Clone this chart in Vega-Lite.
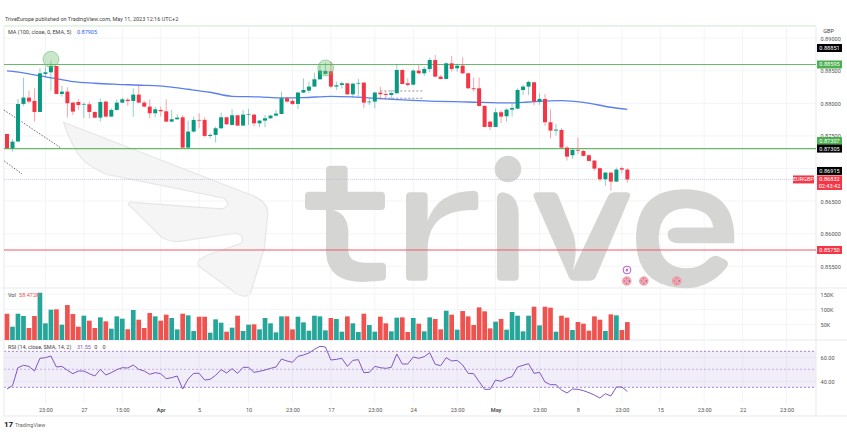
{"$schema":"https://vega.github.io/schema/vega-lite/v6.json","padding":0,"background":"white","spacing":0,"bounds":"flush","config":{"view":{"stroke":null},"text":{"font":"Roboto"},"axis":{"labelFont":"Roboto"}},
"datasets":{
"ticks":[{"i":7},{"i":14},{"i":21},{"i":28},{"i":35},{"i":44},{"i":52},{"i":59},{"i":67},{"i":74},{"i":82},{"i":89},{"i":97},{"i":104},{"i":112},{"i":119},{"i":127},{"i":134},{"i":142}],
"bars":[
{"i":0,"d":"d","o":0.8753,"h":0.8753,"l":0.8731,"c":0.8731,"v":86000,"r":33.58},
{"i":1,"d":"u","o":0.8731,"h":0.87448,"l":0.87259,"c":0.87412,"v":43600,"r":36.36},
{"i":2,"d":"u","o":0.87412,"h":0.88066,"l":0.87412,"c":0.8799,"v":86000,"r":51.36},
{"i":3,"d":"u","o":0.8799,"h":0.88393,"l":0.87959,"c":0.88087,"v":78400,"r":53.31},
{"i":4,"d":"d","o":0.88087,"h":0.88194,"l":0.88,"c":0.88026,"v":39200,"r":52.47},
{"i":5,"d":"d","o":0.88036,"h":0.8823,"l":0.87719,"c":0.87867,"v":78400,"r":48.58},
{"i":6,"d":"u","o":0.87867,"h":0.88537,"l":0.87867,"c":0.8846,"v":154600,"r":59.14},
{"i":7,"d":"u","o":0.8845,"h":0.88562,"l":0.88409,"c":0.88475,"v":54500,"r":59.69},
{"i":8,"d":"u","o":0.88475,"h":0.88654,"l":0.88194,"c":0.88572,"v":99100,"r":61.08},
{"i":9,"d":"d","o":0.88572,"h":0.88572,"l":0.88143,"c":0.88143,"v":100200,"r":51.92},
{"i":10,"d":"u","o":0.88143,"h":0.88266,"l":0.88102,"c":0.88179,"v":50100,"r":52.47},
{"i":11,"d":"d","o":0.88179,"h":0.88245,"l":0.8778,"c":0.88,"v":114300,"r":49.14},
{"i":12,"d":"d","o":0.8801,"h":0.88026,"l":0.87821,"c":0.87872,"v":84900,"r":46.36},
{"i":13,"d":"d","o":0.8802,"h":0.88066,"l":0.87898,"c":0.87974,"v":43600,"r":48.58},
{"i":14,"d":"u","o":0.8798,"h":0.8801,"l":0.8777,"c":0.8799,"v":79500,"r":48.58},
{"i":15,"d":"d","o":0.87985,"h":0.88026,"l":0.8777,"c":0.87867,"v":63200,"r":46.36},
{"i":16,"d":"d","o":0.87867,"h":0.87872,"l":0.8777,"c":0.8778,"v":39200,"r":44.42},
{"i":17,"d":"u","o":0.8778,"h":0.88072,"l":0.87719,"c":0.8802,"v":74100,"r":49.97},
{"i":18,"d":"d","o":0.88026,"h":0.88036,"l":0.87785,"c":0.87796,"v":61000,"r":45.25},
{"i":19,"d":"u","o":0.87796,"h":0.87923,"l":0.87785,"c":0.87898,"v":37000,"r":47.19},
{"i":20,"d":"u","o":0.87898,"h":0.88061,"l":0.87888,"c":0.8801,"v":77300,"r":49.69},
{"i":21,"d":"u","o":0.8801,"h":0.88087,"l":0.88,"c":0.88061,"v":69700,"r":51.36},
{"i":22,"d":"d","o":0.88056,"h":0.88087,"l":0.87959,"c":0.88036,"v":34800,"r":51.08},
{"i":23,"d":"u","o":0.88036,"h":0.8823,"l":0.87796,"c":0.88133,"v":98000,"r":53.58},
{"i":24,"d":"d","o":0.88133,"h":0.88281,"l":0.88,"c":0.8801,"v":66400,"r":49.97},
{"i":25,"d":"d","o":0.8801,"h":0.88041,"l":0.87939,"c":0.87949,"v":39200,"r":48.58},
{"i":26,"d":"d","o":0.87949,"h":0.88061,"l":0.8777,"c":0.87847,"v":88200,"r":45.81},
{"i":27,"d":"u","o":0.87847,"h":0.87949,"l":0.87785,"c":0.87908,"v":77300,"r":47.19},
{"i":28,"d":"d","o":0.87898,"h":0.87949,"l":0.87796,"c":0.87877,"v":63200,"r":46.36},
{"i":29,"d":"d","o":0.87877,"h":0.88061,"l":0.87714,"c":0.87719,"v":82800,"r":42.19},
{"i":30,"d":"u","o":0.87719,"h":0.87898,"l":0.87709,"c":0.87755,"v":71900,"r":43.03},
{"i":31,"d":"u","o":0.87755,"h":0.87831,"l":0.87745,"c":0.8778,"v":34800,"r":44.42},
{"i":32,"d":"d","o":0.87785,"h":0.87821,"l":0.8731,"c":0.8732,"v":86000,"r":33.58},
{"i":33,"d":"u","o":0.8732,"h":0.87734,"l":0.8731,"c":0.87566,"v":80600,"r":41.92},
{"i":34,"d":"u","o":0.87566,"h":0.87796,"l":0.8755,"c":0.87745,"v":29400,"r":46.64},
{"i":35,"d":"d","o":0.87745,"h":0.87847,"l":0.87617,"c":0.87734,"v":76200,"r":46.64},
{"i":36,"d":"d","o":0.87745,"h":0.87785,"l":0.87479,"c":0.87499,"v":76200,"r":41.08},
{"i":37,"d":"u","o":0.87499,"h":0.8754,"l":0.87463,"c":0.87515,"v":24000,"r":41.64},
{"i":38,"d":"u","o":0.87515,"h":0.87642,"l":0.87397,"c":0.87617,"v":67500,"r":44.97},
{"i":39,"d":"u","o":0.87617,"h":0.87857,"l":0.87601,"c":0.87785,"v":56600,"r":49.69},
{"i":40,"d":"d","o":0.87785,"h":0.87796,"l":0.87668,"c":0.87678,"v":27200,"r":46.92},
{"i":41,"d":"u","o":0.87668,"h":0.87908,"l":0.87668,"c":0.87816,"v":40300,"r":50.53},
{"i":42,"d":"d","o":0.87816,"h":0.87821,"l":0.87653,"c":0.87658,"v":79500,"r":46.64},
{"i":43,"d":"u","o":0.87658,"h":0.87898,"l":0.87653,"c":0.87826,"v":29400,"r":51.64},
{"i":44,"d":"u","o":0.87821,"h":0.87913,"l":0.87668,"c":0.87831,"v":50100,"r":51.64},
{"i":45,"d":"d","o":0.87826,"h":0.87836,"l":0.87642,"c":0.87693,"v":51200,"r":47.47},
{"i":46,"d":"u","o":0.87693,"h":0.87745,"l":0.87632,"c":0.87734,"v":34800,"r":48.31},
{"i":47,"d":"u","o":0.87734,"h":0.87821,"l":0.87632,"c":0.8777,"v":71900,"r":49.42},
{"i":48,"d":"u","o":0.8777,"h":0.87821,"l":0.8776,"c":0.87811,"v":54500,"r":50.81},
{"i":49,"d":"u","o":0.87811,"h":0.87898,"l":0.87796,"c":0.87842,"v":25000,"r":51.92},
{"i":50,"d":"u","o":0.87836,"h":0.88179,"l":0.87836,"c":0.88077,"v":77300,"r":58.58},
{"i":51,"d":"d","o":0.88077,"h":0.88102,"l":0.8801,"c":0.88026,"v":77300,"r":56.92},
{"i":52,"d":"d","o":0.88036,"h":0.88061,"l":0.87974,"c":0.8799,"v":34800,"r":55.81},
{"i":53,"d":"u","o":0.8799,"h":0.88179,"l":0.87913,"c":0.88164,"v":76200,"r":60.81},
{"i":54,"d":"u","o":0.88164,"h":0.88383,"l":0.88153,"c":0.88204,"v":57700,"r":61.92},
{"i":55,"d":"u","o":0.88194,"h":0.88332,"l":0.88153,"c":0.88256,"v":30500,"r":63.58},
{"i":56,"d":"u","o":0.88256,"h":0.8847,"l":0.88256,"c":0.88368,"v":79500,"r":66.64},
{"i":57,"d":"u","o":0.88368,"h":0.88588,"l":0.88358,"c":0.88501,"v":77300,"r":69.14},
{"i":58,"d":"u","o":0.8845,"h":0.88623,"l":0.88434,"c":0.88496,"v":31600,"r":68.58},
{"i":59,"d":"d","o":0.88491,"h":0.88639,"l":0.8823,"c":0.88256,"v":71900,"r":57.75},
{"i":60,"d":"u","o":0.88256,"h":0.88332,"l":0.88204,"c":0.88276,"v":68600,"r":58.31},
{"i":61,"d":"u","o":0.88281,"h":0.88332,"l":0.8823,"c":0.88307,"v":27200,"r":59.14},
{"i":62,"d":"d","o":0.88307,"h":0.88307,"l":0.88128,"c":0.88138,"v":77300,"r":52.47},
{"i":63,"d":"u","o":0.88138,"h":0.88317,"l":0.88092,"c":0.88301,"v":54500,"r":57.47},
{"i":64,"d":"u","o":0.88301,"h":0.88373,"l":0.88102,"c":0.88312,"v":26100,"r":58.03},
{"i":65,"d":"d","o":0.88317,"h":0.88317,"l":0.87923,"c":0.8801,"v":86000,"r":47.19},
{"i":66,"d":"u","o":0.88015,"h":0.88077,"l":0.87974,"c":0.88026,"v":49000,"r":47.47},
{"i":67,"d":"u","o":0.88026,"h":0.88179,"l":0.87923,"c":0.88164,"v":27200,"r":52.47},
{"i":68,"d":"d","o":0.88164,"h":0.88256,"l":0.88061,"c":0.88138,"v":76200,"r":51.36},
{"i":69,"d":"d","o":0.88143,"h":0.88179,"l":0.88077,"c":0.88128,"v":54500,"r":50.81},
{"i":70,"d":"u","o":0.88128,"h":0.88204,"l":0.88061,"c":0.88158,"v":28300,"r":51.64},
{"i":71,"d":"u","o":0.88153,"h":0.88603,"l":0.88153,"c":0.88511,"v":73000,"r":62.75},
{"i":72,"d":"d","o":0.88511,"h":0.88521,"l":0.88291,"c":0.88296,"v":74100,"r":54.42},
{"i":73,"d":"d","o":0.88307,"h":0.88383,"l":0.88256,"c":0.88281,"v":26100,"r":54.42},
{"i":74,"d":"u","o":0.88286,"h":0.88521,"l":0.88271,"c":0.88501,"v":71900,"r":60.25},
{"i":75,"d":"d","o":0.88501,"h":0.88588,"l":0.8845,"c":0.8846,"v":53400,"r":59.14},
{"i":76,"d":"u","o":0.8846,"h":0.88562,"l":0.88419,"c":0.88526,"v":28300,"r":60.53},
{"i":77,"d":"u","o":0.88526,"h":0.887,"l":0.88475,"c":0.88664,"v":74100,"r":63.86},
{"i":78,"d":"d","o":0.88664,"h":0.88741,"l":0.88399,"c":0.88409,"v":68600,"r":54.14},
{"i":79,"d":"d","o":0.88409,"h":0.88434,"l":0.88368,"c":0.88373,"v":34800,"r":53.03},
{"i":80,"d":"u","o":0.88373,"h":0.88629,"l":0.88368,"c":0.88613,"v":95800,"r":59.69},
{"i":81,"d":"d","o":0.88613,"h":0.88726,"l":0.88485,"c":0.88526,"v":82800,"r":56.92},
{"i":82,"d":"u","o":0.88537,"h":0.88603,"l":0.88485,"c":0.88577,"v":33800,"r":57.47},
{"i":83,"d":"d","o":0.88577,"h":0.88705,"l":0.8845,"c":0.8846,"v":94700,"r":53.58},
{"i":84,"d":"d","o":0.8846,"h":0.8847,"l":0.8822,"c":0.8823,"v":77300,"r":46.64},
{"i":85,"d":"d","o":0.8823,"h":0.88393,"l":0.88179,"c":0.88215,"v":49000,"r":46.36},
{"i":86,"d":"d","o":0.8823,"h":0.88393,"l":0.87949,"c":0.87959,"v":106700,"r":39.69},
{"i":87,"d":"d","o":0.87959,"h":0.87974,"l":0.87632,"c":0.87637,"v":93700,"r":33.31},
{"i":88,"d":"d","o":0.87719,"h":0.87729,"l":0.87591,"c":0.87637,"v":38100,"r":33.31},
{"i":89,"d":"u","o":0.87637,"h":0.87923,"l":0.87632,"c":0.87862,"v":59900,"r":41.08},
{"i":90,"d":"d","o":0.87862,"h":0.87898,"l":0.87693,"c":0.87796,"v":68600,"r":39.97},
{"i":91,"d":"u","o":0.87801,"h":0.87923,"l":0.87719,"c":0.87903,"v":33800,"r":42.47},
{"i":92,"d":"u","o":0.87903,"h":0.88,"l":0.87796,"c":0.87928,"v":91500,"r":43.86},
{"i":93,"d":"u","o":0.87918,"h":0.8823,"l":0.87908,"c":0.88204,"v":79500,"r":51.92},
{"i":94,"d":"u","o":0.88204,"h":0.88281,"l":0.88128,"c":0.88256,"v":28300,"r":53.31},
{"i":95,"d":"u","o":0.88256,"h":0.88347,"l":0.88128,"c":0.88327,"v":79500,"r":54.69},
{"i":96,"d":"d","o":0.88322,"h":0.88322,"l":0.87964,"c":0.88026,"v":108900,"r":46.64},
{"i":97,"d":"u","o":0.88026,"h":0.88153,"l":0.87974,"c":0.88066,"v":47900,"r":47.47},
{"i":98,"d":"d","o":0.88066,"h":0.88143,"l":0.87653,"c":0.87709,"v":108900,"r":39.42},
{"i":99,"d":"d","o":0.87709,"h":0.87908,"l":0.87463,"c":0.87581,"v":105600,"r":37.19},
{"i":100,"d":"u","o":0.87581,"h":0.87683,"l":0.87504,"c":0.87596,"v":27200,"r":37.19},
{"i":101,"d":"d","o":0.87591,"h":0.87617,"l":0.8731,"c":0.8732,"v":79500,"r":32.75},
{"i":102,"d":"d","o":0.8732,"h":0.87346,"l":0.87121,"c":0.87182,"v":73000,"r":30.25},
{"i":103,"d":"u","o":0.87203,"h":0.8731,"l":0.87147,"c":0.87285,"v":32700,"r":33.58},
{"i":104,"d":"d","o":0.87285,"h":0.87474,"l":0.87223,"c":0.87274,"v":58800,"r":33.31},
{"i":105,"d":"d","o":0.87269,"h":0.87285,"l":0.87182,"c":0.87193,"v":53400,"r":32.19},
{"i":106,"d":"d","o":0.87203,"h":0.87218,"l":0.87106,"c":0.87116,"v":30500,"r":30.53},
{"i":107,"d":"d","o":0.87121,"h":0.87131,"l":0.86968,"c":0.86998,"v":77300,"r":28.58},
{"i":108,"d":"d","o":0.87004,"h":0.87014,"l":0.86799,"c":0.86835,"v":66400,"r":26.08},
{"i":109,"d":"u","o":0.86835,"h":0.86947,"l":0.86733,"c":0.86937,"v":29400,"r":29.69},
{"i":110,"d":"d","o":0.86937,"h":0.86942,"l":0.86661,"c":0.86799,"v":83900,"r":27.75},
{"i":111,"d":"u","o":0.86799,"h":0.87014,"l":0.86794,"c":0.86983,"v":80600,"r":35.25},
{"i":112,"d":"d","o":0.87004,"h":0.87029,"l":0.86927,"c":0.86983,"v":32700,"r":35.25},
{"i":113,"d":"d","o":0.86983,"h":0.87004,"l":0.86784,"c":0.86832,"v":58472,"r":31.55}
],
"ma":[{"i":0,"p":0.88496},{"i":3,"p":0.88465},{"i":6,"p":0.88419},{"i":9,"p":0.88378},{"i":12,"p":0.88332},{"i":16,"p":0.88307},{"i":20,"p":0.88291},{"i":25,"p":0.88276},{"i":29,"p":0.88256},{"i":33,"p":0.88215},{"i":37,"p":0.88169},{"i":41,"p":0.88107},{"i":46,"p":0.88097},{"i":50,"p":0.88082},{"i":54,"p":0.88087},{"i":59,"p":0.88107},{"i":63,"p":0.88097},{"i":67,"p":0.88077},{"i":71,"p":0.88056},{"i":76,"p":0.88036},{"i":84,"p":0.8802},{"i":92,"p":0.88005},{"i":95,"p":0.8802},{"i":101,"p":0.88041},{"i":105,"p":0.88015},{"i":110,"p":0.87939},{"i":113,"p":0.87905}]
},
"vconcat":[
{"width":847,"height":288,"resolve":{"scale":{"color":"independent"}},
"encoding":{"x":{"field":"i","type":"quantitative","scale":{"domain":[-1.093,153.19],"nice":false,"zero":false,"padding":0},"axis":null},
"y":{"field":"p","type":"quantitative","scale":{"domain":[0.85167,0.89584],"nice":false,"zero":false},"axis":{"orient":"right","offset":-32,"title":null,"grid":false,"domain":false,"ticks":false,"values":[0.855,0.86,0.865,0.87,0.875,0.88,0.885,0.89],"format":".5f","labelColor":"#555555","labelFontSize":5.6,"labelPadding":4}}},
"layer":[
{"data":{"values":[{"i":-0.55,"i2":147.36,"p":0.855,"k":"grid"},{"i":-0.55,"i2":147.36,"p":0.86,"k":"grid"},{"i":-0.55,"i2":147.36,"p":0.865,"k":"grid"},{"i":-0.55,"i2":147.36,"p":0.87,"k":"grid"},{"i":-0.55,"i2":147.36,"p":0.875,"k":"grid"},{"i":-0.55,"i2":147.36,"p":0.88,"k":"grid"},{"i":-0.55,"i2":147.36,"p":0.885,"k":"grid"},{"i":-0.55,"i2":147.36,"p":0.89,"k":"grid"},{"i":-0.55,"i2":147.36,"p":0.89186,"k":"pale"},{"i":-1.093,"i2":153.19,"p":0.85167,"k":"frame"}]},
"mark":{"type":"rule","strokeWidth":1},
"encoding":{"x2":{"field":"i2"},"color":{"field":"k","type":"nominal","scale":{"domain":["grid","frame","pale"],"range":["#f3f4f8","#e8e9ee","#cfe8cf"]},"legend":null}}},
{"data":{"name":"ticks"},"transform":[{"calculate":"0.89186","as":"p"},{"calculate":"0.85167","as":"p2"}],"mark":{"type":"rule","stroke":"#f3f4f8","strokeWidth":1},"encoding":{"y2":{"field":"p2"}}},
{"data":{"values":[{"i":-0.55,"p":0.89186,"p2":0.85167},{"i":147.36,"p":0.89186,"p2":0.85167}]},"mark":{"type":"rule","stroke":"#e8e9ee"},"encoding":{"y2":{"field":"p2"}}},
{"data":{"values":[{"i":8.015,"p":0.87821}]},"mark":{"type":"point","filled":true,"opacity":1,"size":0.4444,"fill":"#f5f5f5","stroke":"#e6e6e6","strokeWidth":1.2,"shape":"M38,22 L600,240 Q655,262 650,300 L640,400 L600,530 Q590,555 555,535 L445,455 Q438,440 445,435 L470,420 L570,385 Q585,365 555,355 L380,380 Q350,380 330,365 L232,268 Q232,260 245,262 L510,282 Q545,275 520,250 L190,183 Q165,180 140,165 Q100,145 80,115 Q50,65 38,22 Z"}},
{"data":{"values":[{"i":51.73,"p":0.87284}]},"mark":{"type":"point","filled":true,"opacity":1,"size":0.4444,"fill":"#d5d5d3","strokeWidth":0,"shape":"M105,60 Q105,47 118,47 L158,47 Q170,47 170,60 L170,125 L270,125 Q282,125 282,137 L282,168 Q282,180 270,180 L125,180 Q172,190 172,250 L172,300 Q172,338 220,338 L272,338 Q285,338 285,350 L285,380 Q285,392 270,392 L215,396 Q105,396 105,300 L105,180 L55,180 Q42,180 42,168 L42,137 Q42,125 55,125 L105,125 Z M345,140 Q345,127 358,127 L397,127 Q410,127 410,140 L410,212 Q440,125 545,122 Q562,122 562,135 L562,170 Q562,183 545,180 Q410,180 410,300 L410,380 Q410,392 397,392 L358,392 Q345,392 345,380 Z M611,57 C611,35 629,17 651,17 C673,17 691,35 691,57 C691,79 673,97 651,97 C629,97 611,79 611,57 Z M618,145 Q618,127 636,127 Q683,135 683,195 L683,380 Q683,392 670,392 L630,392 Q618,392 618,380 Z M728,140 Q725,127 740,127 L785,127 Q798,127 803,140 L848,255 Q862,300 845,362 L950,140 Q957,127 970,127 L1005,127 Q1022,127 1016,142 L915,380 Q910,392 895,392 L850,392 Q838,392 833,380 Z"}},
{"data":{"values":[{"i":112.75,"p":0.86824}]},"mark":{"type":"point","filled":true,"opacity":1,"size":0.4444,"fill":"#d5d5d3","strokeWidth":0,"shape":"M325,190 L160,190 Q125,190 125,163 Q125,145 150,143 L262,143 Q255,88 180,85 Q100,88 98,175 Q100,262 180,265 Q225,265 250,235 Q262,225 275,228 L300,240 Q312,250 300,265 Q250,325 178,325 Q30,322 30,175 Q32,28 178,28 Q325,30 325,175 Z"}},
{"data":{"values":[{"i":-0.55,"i2":9.84,"p":0.87897,"p2":0.87314},{"i":-0.5,"i2":2.73,"p":0.87115,"p2":0.86916}]},"mark":{"type":"rule","stroke":"#444444","strokeWidth":0.8,"strokeDash":[1.5,1.5]},"encoding":{"x2":{"field":"i2"},"y2":{"field":"p2"}}},
{"data":{"values":[{"i":68,"i2":76,"p":0.88189},{"i":68,"i2":76,"p":0.88077}]},"mark":{"type":"rule","stroke":"#666666","strokeWidth":0.7,"strokeDash":[2,2]},"encoding":{"x2":{"field":"i2"}}},
{"data":{"values":[{"i":-0.55,"i2":147.36,"p":0.88595,"k":"g"},{"i":-0.55,"i2":147.36,"p":0.87305,"k":"g"},{"i":-0.55,"i2":147.36,"p":0.8575,"k":"r"}]},"mark":{"type":"rule","strokeWidth":1.2},"encoding":{"x2":{"field":"i2"},"color":{"field":"k","type":"nominal","scale":{"domain":["g","r"],"range":["#66bb6a","#ef5a68"]},"legend":null}}},
{"data":{"values":[{"i":-0.55,"i2":147.36,"p":0.86832}]},"mark":{"type":"rule","stroke":"#c9b6e6","strokeWidth":0.8,"strokeDash":[1,1]},"encoding":{"x2":{"field":"i2"}}},
{"data":{"name":"ma"},"mark":{"type":"line","stroke":"#5b80ee","strokeWidth":1.3,"interpolate":"monotone"}},
{"data":{"name":"bars"},"mark":{"type":"rule","strokeWidth":1,"opacity":0.45},"encoding":{"y":{"field":"h"},"y2":{"field":"l"},"color":{"field":"d","type":"nominal","scale":{"domain":["u","d"],"range":["#089981","#f23645"]},"legend":null}}},
{"data":{"name":"bars"},"mark":{"type":"bar","size":4},"encoding":{"y":{"field":"o"},"y2":{"field":"c"},"color":{"field":"d","type":"nominal","scale":{"domain":["u","d"],"range":["#089981","#f23645"]},"legend":null}}},
{"data":{"values":[{"i":8,"p":0.88675},{"i":58.05,"p":0.88542}]},"mark":{"type":"point","filled":true,"fill":"#66bb6a","fillOpacity":0.35,"opacity":1,"stroke":"#66bb6a","strokeWidth":0.8,"strokeOpacity":0.7,"size":254,"shape":"circle"}},
{"data":{"values":[{"i":112.93,"p":0.85443}]},"mark":{"type":"point","filled":true,"opacity":1,"fill":"#ffffff","stroke":"#ab47bc","strokeWidth":0.9,"size":60,"shape":"circle"}},
{"data":{"values":[{"i":112.93,"p":0.85443}]},"mark":{"type":"point","filled":true,"opacity":1,"fill":"#ab47bc","strokeWidth":0,"size":16,"shape":"M0.3,-1.2 L-0.8,0.2 L-0.1,0.2 L-0.3,1.2 L0.8,-0.2 L0.1,-0.2 Z"}},
{"data":{"values":[{"i":112.9,"p":0.85275},{"i":116,"p":0.85275},{"i":122,"p":0.85275}]},"mark":{"type":"point","filled":true,"opacity":1,"fill":"#f5a3aa","stroke":"#f6838c","strokeWidth":0.6,"size":75,"shape":"circle"}},
{"data":{"values":[{"i":112.9,"p":0.85275},{"i":116,"p":0.85275},{"i":122,"p":0.85275}]},"mark":{"type":"point","filled":false,"opacity":1,"stroke":"#4a67c9","strokeWidth":1,"strokeDash":[1,2.5],"size":24,"shape":"circle"}},
{"data":{"values":[{"i":149.82,"p":0.88848,"t":"0.88851","k":"b"},{"i":149.82,"p":0.88595,"t":"0.88595","k":"g"},{"i":149.82,"p":0.87422,"t":"0.87307","k":"g"},{"i":149.82,"p":0.87305,"t":"0.87305","k":"b"},{"i":149.82,"p":0.86962,"t":"0.86915","k":"b"},{"i":149.82,"p":0.86832,"t":"0.86832","k":"r"},{"i":149.82,"p":0.86732,"t":"02:43:42","k":"r"},{"i":149.82,"p":0.8575,"t":"0.85750","k":"r"}]},
"layer":[{"mark":{"type":"rect","width":25,"height":8},"encoding":{"color":{"field":"k","type":"nominal","scale":{"domain":["b","g","r"],"range":["#000000","#4caf50","#f23645"]},"legend":null}}},
{"mark":{"type":"text","fontSize":5.6,"color":"#ffffff"},"encoding":{"text":{"field":"t"}}}]},
{"data":{"values":[{"i":145.08,"p":0.86832,"t":"EURGBP"}]},
"layer":[{"mark":{"type":"rect","width":21,"height":8,"color":"#f23645"}},{"mark":{"type":"text","fontSize":5.6,"color":"#ffffff"},"encoding":{"text":{"field":"t"}}}]},
{"data":{"values":[{"i":-0.36,"p":0.89293,"t":"TriveEurope published on TradingView.com, May 11, 2023 12:16 UTC+2","k":"dark"},{"i":0.18,"p":0.89094,"t":"MA (100, close, 0, EMA, 5)","k":"dark"},{"i":12.75,"p":0.89094,"t":"0.87905","k":"blue"},{"i":148.7,"p":0.89109,"t":"GBP","k":"dark"}]},"mark":{"type":"text","align":"left","baseline":"middle","fontSize":5.5},"encoding":{"text":{"field":"t"},"color":{"field":"k","type":"nominal","scale":{"domain":["dark","blue"],"range":["#444444","#2962ff"]},"legend":null}}}
]},
{"width":847,"height":52,"resolve":{"scale":{"color":"independent"}},
"encoding":{"x":{"field":"i","type":"quantitative","scale":{"domain":[-1.093,153.19],"nice":false,"zero":false,"padding":0},"axis":null},
"y":{"field":"v","type":"quantitative","scale":{"domain":[0,170000],"nice":false},"axis":{"orient":"right","offset":-32,"title":null,"grid":false,"domain":false,"ticks":false,"values":[50000,100000,150000],"labelExpr":"datum.value/1000+'K'","labelColor":"#555555","labelFontSize":5.6,"labelPadding":4}}},
"layer":[
{"data":{"values":[{"i":-0.55,"i2":147.36,"v":50000},{"i":-0.55,"i2":147.36,"v":100000},{"i":-0.55,"i2":147.36,"v":150000}]},"mark":{"type":"rule","stroke":"#f3f4f8"},"encoding":{"x2":{"field":"i2"}}},
{"data":{"name":"ticks"},"transform":[{"calculate":"0","as":"v"},{"calculate":"170000","as":"v2"}],"mark":{"type":"rule","stroke":"#f3f4f8"},"encoding":{"y2":{"field":"v2"}}},
{"data":{"values":[{"i":-0.55,"v":0,"v2":170000},{"i":147.36,"v":0,"v2":170000}]},"mark":{"type":"rule","stroke":"#e8e9ee"},"encoding":{"y2":{"field":"v2"}}},
{"data":{"values":[{"i":-1.093,"i2":153.19,"v":0}]},"mark":{"type":"rule","stroke":"#e8e9ee"},"encoding":{"x2":{"field":"i2"}}},
{"data":{"name":"bars"},"mark":{"type":"bar","size":4.7},"encoding":{"color":{"field":"d","type":"nominal","scale":{"domain":["u","d"],"range":["#26a69a","#ef5350"]},"legend":null}}},
{"data":{"values":[{"i":0.18,"v":148000,"t":"Vol","k":"dark"},{"i":2.2,"v":148000,"t":"58.472K","k":"red"}]},"mark":{"type":"text","align":"left","baseline":"middle","fontSize":5.5},"encoding":{"text":{"field":"t"},"color":{"field":"k","type":"nominal","scale":{"domain":["dark","red"],"range":["#444444","#ef5350"]},"legend":null}}}
]},
{"width":847,"height":102,"resolve":{"scale":{"color":"independent"}},
"encoding":{"x":{"field":"i","type":"quantitative","scale":{"domain":[-1.093,153.19],"nice":false,"zero":false,"padding":0},"axis":{"orient":"bottom","offset":-38,"title":null,"grid":false,"domain":false,"ticks":false,"values":[7,14,21,28,35,44,52,59,67,74,82,89,97,104,112,119,127,134,142],"labelExpr":"['23:00','27','15:00','Apr','5','10','23:00','17','23:00','24','23:00','May','23:00','8','23:00','15','23:00','22','23:00'][indexof([7,14,21,28,35,44,52,59,67,74,82,89,97,104,112,119,127,134,142],datum.value)]","labelColor":"#555555","labelFontSize":5.6,"labelPadding":3,"labelFontWeight":{"condition":{"test":"datum.value==28||datum.value==89","value":"bold"},"value":"normal"}}},
"y":{"field":"r","type":"quantitative","scale":{"domain":[-10.58,74.42],"nice":false,"zero":false},"axis":{"orient":"right","offset":-32,"title":null,"grid":false,"domain":false,"ticks":false,"values":[40,60],"format":".2f","labelColor":"#555555","labelFontSize":5.6,"labelPadding":4}}},
"layer":[
{"data":{"name":"ticks"},"transform":[{"calculate":"74.42","as":"r"},{"calculate":"21.9","as":"r2"}],"mark":{"type":"rule","stroke":"#f3f4f8"},"encoding":{"y2":{"field":"r2"}}},
{"data":{"values":[{"i":-0.55,"i2":147.36,"r":60},{"i":-0.55,"i2":147.36,"r":40}]},"mark":{"type":"rule","stroke":"#f3f4f8"},"encoding":{"x2":{"field":"i2"}}},
{"data":{"values":[{"i":-0.55,"i2":147.36,"r":65,"r2":35}]},"mark":{"type":"rect","fill":"#7e57c2","fillOpacity":0.1},"encoding":{"x2":{"field":"i2"},"y2":{"field":"r2"}}},
{"data":{"values":[{"i":-0.55,"i2":147.36,"r":65},{"i":-0.55,"i2":147.36,"r":35}]},"mark":{"type":"rule","stroke":"#9575cd","strokeWidth":0.9,"strokeDash":[2,2]},"encoding":{"x2":{"field":"i2"}}},
{"data":{"values":[{"i":-0.55,"i2":147.36,"r":50}]},"mark":{"type":"rule","stroke":"#b39ddb","strokeWidth":0.8,"strokeDash":[2,2]},"encoding":{"x2":{"field":"i2"}}},
{"data":{"values":[{"i":-0.55,"i2":153.19,"r":11.1}]},"mark":{"type":"rule","stroke":"#e8e9ee"},"encoding":{"x2":{"field":"i2"}}},
{"data":{"values":[{"i":-0.55,"r":74.42,"r2":11.1},{"i":147.36,"r":74.42,"r2":11.1}]},"mark":{"type":"rule","stroke":"#e8e9ee"},"encoding":{"y2":{"field":"r2"}}},
{"data":{"name":"bars"},"mark":{"type":"line","stroke":"#7e57c2","strokeWidth":1}},
{"data":{"values":[{"i":0.18,"r":68.6,"t":"RSI (14, close, SMA, 14, 2)","k":"dark"},{"i":12.75,"r":68.6,"t":"31.55","k":"purple"},{"i":15.9,"r":68.6,"t":"0","k":"dark"},{"i":17.4,"r":68.6,"t":"0","k":"dark"},{"i":1.46,"r":3.58,"t":"TradingView","k":"grey"}]},"mark":{"type":"text","align":"left","baseline":"middle","fontSize":5.5},"encoding":{"text":{"field":"t"},"color":{"field":"k","type":"nominal","scale":{"domain":["dark","purple","grey"],"range":["#444444","#7e57c2","#666666"]},"legend":null}}},
{"data":{"values":[{"i":-0.55,"r":3.58,"t":"17"}]},"mark":{"type":"text","align":"left","baseline":"middle","fontSize":8,"fontWeight":"bold","color":"#111111"},"encoding":{"text":{"field":"t"}}}
]}
]}
